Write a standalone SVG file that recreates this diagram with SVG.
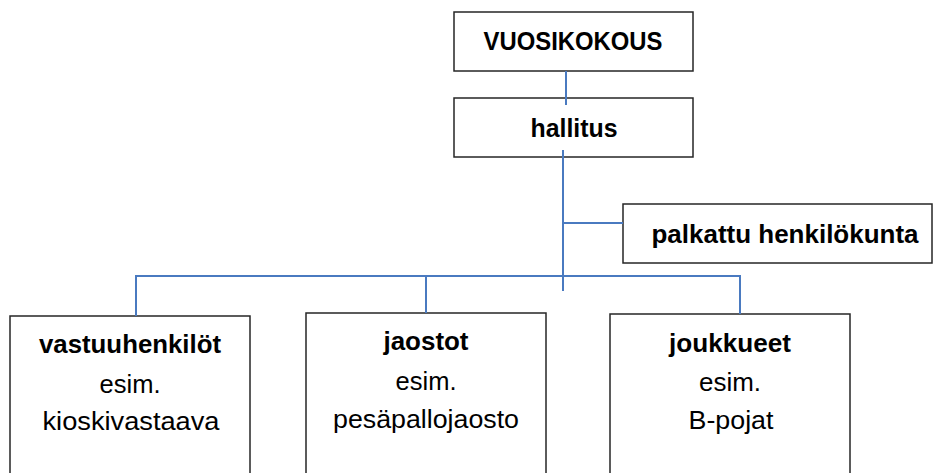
<svg xmlns="http://www.w3.org/2000/svg" width="933" height="473" viewBox="0 0 933 473">
<style>
.box{fill:#fff;stroke:#262626;stroke-width:1.5}
.c{fill:none;stroke:#4a7ac0;stroke-width:2}
text{font-family:"Liberation Sans",Arial,sans-serif;fill:#000;text-anchor:middle}
.b{font-weight:bold;font-size:25px}
.r{font-size:26px}
</style>
<rect width="933" height="473" fill="#fff"/>
<g id="vuosikokous"><rect class="box" x="454" y="12" width="239" height="59"/><text class="b" x="573" y="50" textLength="179" lengthAdjust="spacingAndGlyphs">VUOSIKOKOUS</text></g>
<g id="hallitus"><rect class="box" x="454" y="98" width="239" height="59"/><text class="b" x="574" y="137" textLength="87" lengthAdjust="spacingAndGlyphs">hallitus</text></g>
<g id="palkattu"><rect class="box" x="623" y="204" width="309" height="59"/><text class="b" x="785" y="243" textLength="267" lengthAdjust="spacingAndGlyphs">palkattu henkilökunta</text></g>
<g id="vastuuhenkilot"><rect class="box" x="10" y="316" width="240" height="170"/><text class="b" x="130" y="353" textLength="182" lengthAdjust="spacingAndGlyphs">vastuuhenkilöt</text><text class="r" x="130" y="393" textLength="61" lengthAdjust="spacingAndGlyphs">esim.</text><text class="r" x="131" y="430" textLength="177" lengthAdjust="spacingAndGlyphs">kioskivastaava</text></g>
<g id="jaostot"><rect class="box" x="306" y="313" width="240" height="170"/><text class="b" x="426" y="350" textLength="85" lengthAdjust="spacingAndGlyphs">jaostot</text><text class="r" x="426" y="390" textLength="61" lengthAdjust="spacingAndGlyphs">esim.</text><text class="r" x="426" y="428" textLength="186" lengthAdjust="spacingAndGlyphs">pesäpallojaosto</text></g>
<g id="joukkueet"><rect class="box" x="610" y="314" width="240" height="170"/><text class="b" x="730" y="352" textLength="122" lengthAdjust="spacingAndGlyphs">joukkueet</text><text class="r" x="730" y="391" textLength="62" lengthAdjust="spacingAndGlyphs">esim.</text><text class="r" x="731" y="429" textLength="85" lengthAdjust="spacingAndGlyphs">B-pojat</text></g>
<g id="connectors">
<line class="c" x1="566" y1="71" x2="566" y2="105"/>
<line class="c" x1="563" y1="150" x2="563" y2="291"/>
<line class="c" x1="563" y1="223" x2="623" y2="223"/>
<line class="c" x1="136" y1="276" x2="740" y2="276"/>
<line class="c" x1="136" y1="275" x2="136" y2="316"/>
<line class="c" x1="426" y1="276" x2="426" y2="313"/>
<line class="c" x1="740" y1="275" x2="740" y2="314"/>
</g>
</svg>
